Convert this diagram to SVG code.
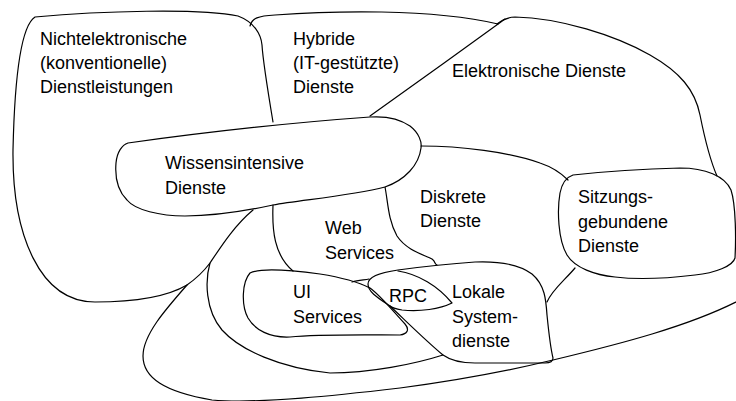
<svg xmlns="http://www.w3.org/2000/svg" width="736" height="401" viewBox="0 0 736 401">
  <style>
    .b { fill: none; stroke: #000; stroke-width: 1.2; stroke-linejoin: round; stroke-linecap: round; }
    text { font-family: "Liberation Sans", Arial, sans-serif; font-size: 18px; fill: #000; }
  </style>
  <rect width="736" height="401" fill="#fff"/>

  <!-- region boundaries -->
  <g id="boundaries">
    <!-- non-electronic services: top, left side and lower edge -->
    <path id="nichtelektronisch" class="b" d="M 273,122 C 268,92 263,62 262,45 C 261,34 254,22 238,16 C 200,8 100,11 35,17 C 24,24 15,60 13,150 C 12,235 40,302 95,302 C 140,302 170,295 187,285 C 197,278 204,271 210,263 C 222,245 235,225 253,210"/>
    <!-- hybrid services top edge -->
    <path id="hybrid-top" class="b" d="M 250,26 C 252,18 258,16 275,15 C 330,11 430,8 498,24"/>
    <!-- hybrid / electronic divider -->
    <path id="hybrid-divider" class="b" d="M 370,116 C 405,91 465,48 505,19"/>
    <!-- electronic services outer edge -->
    <path id="elektronisch" class="b" d="M 497,24 C 502,20 507,17 515,17 C 560,18 615,35 650,55 C 680,72 695,90 700,115 C 705,140 710,160 717,176"/>
    <!-- knowledge-intensive services -->
    <path id="wissensintensiv" class="b" d="M 128,143 C 200,133 300,122 370,117 C 385,116 400,119 410,126 C 419,133 422,142 421,148 C 419,165 405,180 385,187 C 350,196 300,200 273,205 C 250,210 215,216 185,216 C 160,216 135,210 127,200 C 117,190 115,175 116,163 C 117,152 122,145 128,143 Z"/>
    <!-- electronic inner edge between knowledge-intensive and session-bound -->
    <path id="elektronisch-innen" class="b" d="M 421,146 C 460,146 510,152 540,163 C 555,168 563,175 568,180"/>
    <!-- session-bound services -->
    <path id="sitzungsgebunden" class="b" d="M 573,175 C 600,172 640,169 680,168 C 705,168 725,176 731,190 C 736,205 736,240 735,258 C 733,266 715,273 695,275 C 670,278 640,280 615,277 C 595,275 575,268 567,255 C 558,240 557,210 560,193 C 562,183 567,177 573,175 Z"/>
    <path id="sitzung-lokal" class="b" d="M 575,268 C 565,280 552,290 547,302"/>
    <!-- discrete services divider -->
    <path id="diskret" class="b" d="M 385,187 C 388,202 388,220 397,236 C 407,251 425,255 432,259 C 436,262 434,264 437,265"/>
    <!-- web services left edge -->
    <path id="web-left" class="b" d="M 273,205 C 272,230 274,255 293,271"/>
    <!-- web services lower edge to RPC -->
    <path id="web-bottom" class="b" d="M 352,282 C 358,280 364,280 369,279"/>
    <!-- inner lower curve -->
    <path id="innen-unten" class="b" d="M 210,263 C 205,280 205,310 222,330 C 240,350 280,368 330,373 C 370,373 415,364 443,355"/>
    <!-- outer lower curve -->
    <path id="aussen-unten" class="b" d="M 187,285 C 165,310 143,335 143,356 C 143,378 165,392 212,400 C 260,404 340,395 400,388 C 460,380 520,368 553,360 C 620,344 690,326 740,300"/>
    <!-- UI services -->
    <path id="ui" class="b" d="M 250,273 C 260,268 290,270 320,274 C 345,278 360,283 370,288 C 380,295 392,310 405,324 C 410,330 407,334 400,335 C 370,335 320,334 290,337 C 270,338 255,330 248,318 C 241,305 242,282 250,273 Z"/>
    <!-- local system services -->
    <path id="lokal" class="b" d="M 390,306 C 378,298 368,292 368,284 C 368,277 378,273 398,270 C 420,267 445,264 475,262 C 500,261 520,265 532,274 C 545,285 546,300 547,315 C 549,335 551,350 553,358 C 553,362 550,363 545,363 L 475,363 C 460,363 450,360 443,355 C 425,340 405,320 390,306 Z"/>
    <!-- RPC lens -->
    <path id="rpc" class="b" d="M 398,271 C 418,274 438,286 452,303 C 440,309 420,312 402,310 C 396,309 392,308 390,306"/>
  </g>

  <!-- labels -->
  <g id="labels">
    <g id="label-nichtelektronisch">
      <text x="40" y="45">Nichtelektronische</text>
      <text x="40" y="69">(konventionelle)</text>
      <text x="40" y="93">Dienstleistungen</text>
    </g>
    <g id="label-hybrid">
      <text x="293" y="45">Hybride</text>
      <text x="293" y="69">(IT-gestützte)</text>
      <text x="293" y="93">Dienste</text>
    </g>
    <g id="label-elektronisch">
      <text x="452" y="77">Elektronische Dienste</text>
    </g>
    <g id="label-wissensintensiv">
      <text x="165" y="169">Wissensintensive</text>
      <text x="165" y="194">Dienste</text>
    </g>
    <g id="label-diskret">
      <text x="420" y="203">Diskrete</text>
      <text x="420" y="227">Dienste</text>
    </g>
    <g id="label-sitzung">
      <text x="578" y="203">Sitzungs-</text>
      <text x="578" y="228">gebundene</text>
      <text x="578" y="252">Dienste</text>
    </g>
    <g id="label-web">
      <text x="325" y="234">Web</text>
      <text x="325" y="259">Services</text>
    </g>
    <g id="label-ui">
      <text x="293" y="298">UI</text>
      <text x="293" y="323">Services</text>
    </g>
    <g id="label-rpc">
      <text x="389" y="302">RPC</text>
    </g>
    <g id="label-lokal">
      <text x="452" y="298">Lokale</text>
      <text x="452" y="323">System-</text>
      <text x="452" y="347">dienste</text>
    </g>
  </g>
</svg>
